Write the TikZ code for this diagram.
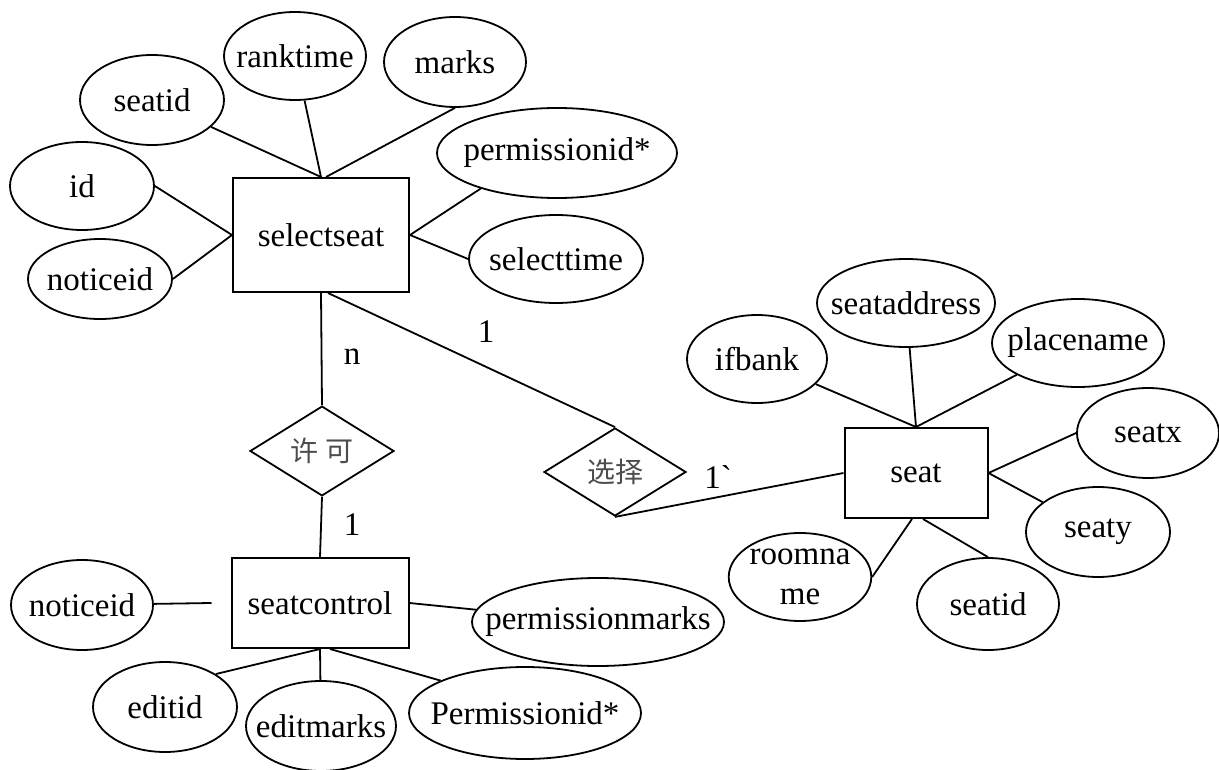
\documentclass[tikz,border=0pt]{standalone}
\usepackage{fontspec}
\setmainfont{Liberation Serif}
\newfontfamily\cjk{Noto Sans CJK SC}
\usetikzlibrary{shapes.geometric}
\newcommand{\attrtext}[1]{\makebox[0pt]{#1}}

\begin{document}
\begin{tikzpicture}
[
    x=1pt, y=-1pt,
    every node/.style={font=\fontsize{33}{40}\selectfont},
    entity/.style={draw, rectangle, line width=2pt, inner sep=0pt},
    attr/.style args={#1x#2}{draw, ellipse, line width=1.8pt, inner sep=0pt, minimum width=#1pt, minimum height=#2pt},
    rel/.style={draw, diamond, line width=1.8pt, inner sep=0pt, minimum width=144pt, minimum height=88pt,
        font=\cjk\fontsize{28}{32}\selectfont, text=black!70},
    every path/.style={line width=1.8pt}
]
    \useasboundingbox (0,0) rectangle (1219,770);

    % entities
    \node [entity, minimum width=176pt, minimum height=114pt] (selectseat) at (321,235) {selectseat};
    \node [entity, minimum width=177pt, minimum height=90pt] (seatcontrol) at (320,603) {seatcontrol};
    \node [entity, minimum width=143pt, minimum height=90pt] (seat) at (916,473) {seat};

    % relations
    \node [rel] (allow) at (322,451) {许\kern8pt可};
    \node [rel, minimum width=142pt] (choose) at (615,472) {选择};

    % selectseat attributes
    \node [attr=144x90] (seatid1) at (152,100) {\attrtext{seatid}};
    \node [attr=142x88] (ranktime) at (295,56) {\attrtext{ranktime}};
    \node [attr=142x90] (marks) at (455,62) {\attrtext{marks}};
    \node [attr=144x88] (id) at (82,186) {\attrtext{id}};
    \node [attr=144x80] (noticeid1) at (100,279) {\attrtext{noticeid}};
    \node [attr=240x90] (permissionid1) at (557,153) {\attrtext{permissionid*}};
    \node [attr=174x88] (selecttime) at (556,259) {\attrtext{selecttime}};

    % seatcontrol attributes
    \node [attr=142x90] (noticeid2) at (82,605) {\attrtext{noticeid}};
    \node [attr=252x88] (permissionmarks) at (598,622) {\attrtext{permissionmarks}};
    \node [attr=144x90] (editid) at (165,707) {\attrtext{editid}};
    \node [attr=150x90] (editmarks) at (321,726) {\attrtext{editmarks}};
    \node [attr=232x92] (permissionid2) at (525,713) {\attrtext{Permissionid*}};

    % seat attributes
    \node [attr=178x88] (seataddress) at (906,303) {\attrtext{seataddress}};
    \node [attr=140x88] (ifbank) at (757,359) {\attrtext{ifbank}};
    \node [attr=172x88] (placename) at (1078,343) {\attrtext{placename}};
    \node [attr=142x90] (seatx) at (1148,433) {\attrtext{seatx}};
    \node [attr=144x90] (seaty) at (1098,532) {\attrtext{seaty}};
    \node [attr=140x88, align=center, inner ysep=-12pt] (roomname) at (800,577) {roomna\\me};
    \node [attr=142x92] (seatid2) at (988,604) {\attrtext{seatid}};

    % cardinalities
    \node (cardn) at (352,357) {n};
    \node (cardone) at (352,525) {1};
    \node (cardsel) at (486,332) {1};
    \node (cardseat) at (718,477) {1\textasciigrave};

    \coordinate (cgap) at ([xshift=-19pt]seatcontrol.west);

    \draw (selectseat.north) -- (seatid1);
    \draw (selectseat.north) -- (ranktime);
    \draw ([xshift=5pt]selectseat.north) -- (marks.south);
    \draw (selectseat.west) -- (id.east);
    \draw (selectseat.west) -- (noticeid1.east);
    \draw (selectseat.east) -- (permissionid1.205);
    \draw (selectseat.east) -- (selecttime.west);

    \draw (selectseat.south) -- (allow.north);
    \draw (allow.south) -- (seatcontrol.north);
    \draw ([xshift=7pt]selectseat.south) -- (choose.north);
    \draw (choose.south) -- (seat.west);

    \draw (noticeid2) -- (cgap);
    \draw (seatcontrol.east) -- (permissionmarks);
    \draw (seatcontrol.south) -- (editid.33);
    \draw (seatcontrol.south) -- (editmarks);
    \draw ([xshift=10pt]seatcontrol.south) -- (permissionid2.159);

    \draw (seat.north) -- (ifbank);
    \draw (seat.north) -- (seataddress);
    \draw (seat.north) -- (placename);
    \draw (seat.east) -- (seatx.west);
    \draw (seat.east) -- (seaty);
    \draw ([xshift=-4pt]seat.south) -- (roomname.east);
    \draw ([xshift=7pt]seat.south) -- (seatid2.north);
\end{tikzpicture}
\end{document}
